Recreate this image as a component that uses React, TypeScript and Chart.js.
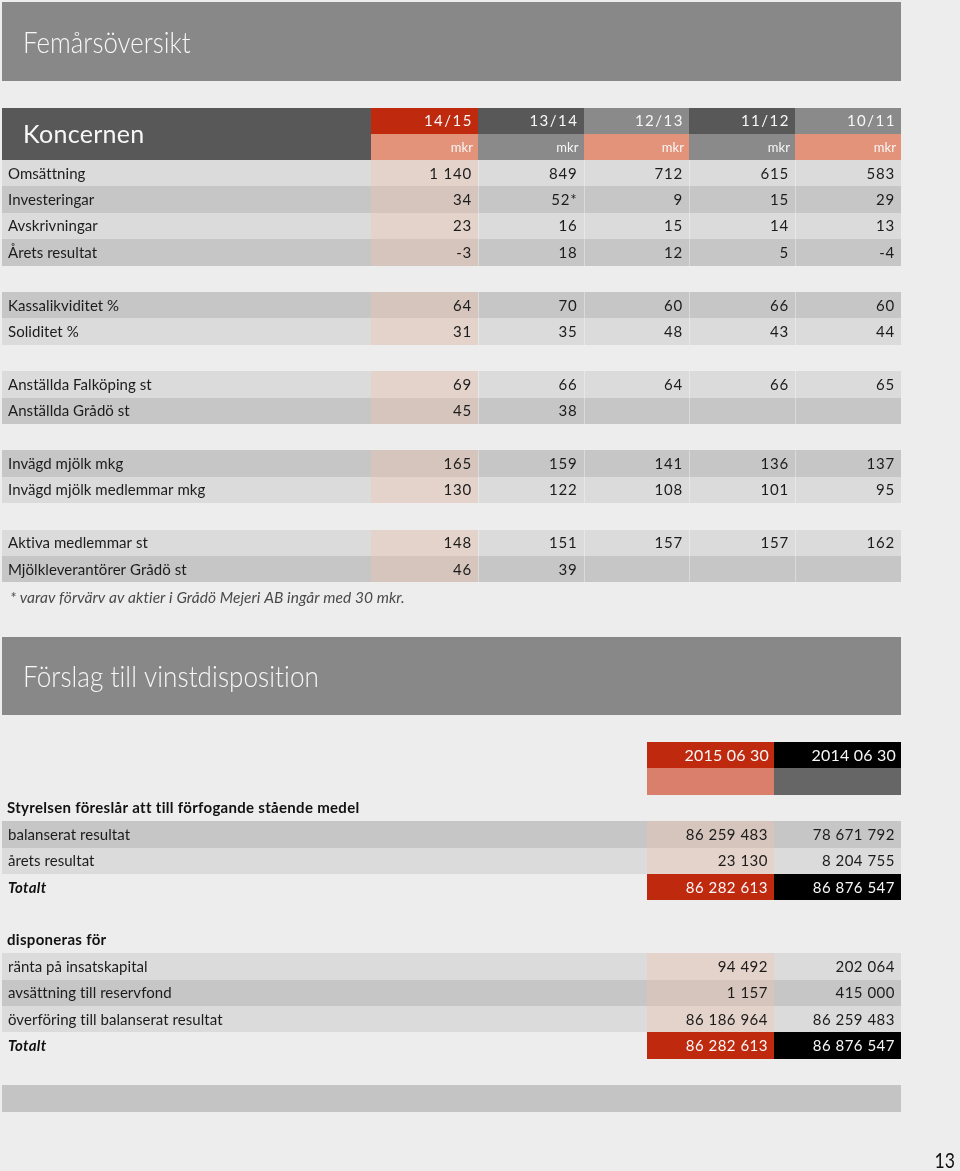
import React, { useEffect, useRef } from "react";
import { Chart, registerables } from "chart.js";

Chart.register(...registerables);

// ---------- DATA ----------
const pageTitle = "Femårsöversikt";
const groupTitle = "Koncernen";
const yearLabels = ["14/15", "13/14", "12/13", "11/12", "10/11"];
const unitLabels = ["mkr", "mkr", "mkr", "mkr", "mkr"];

// '' label = spacer row
const rowLabels = [
  "Omsättning", "Investeringar", "Avskrivningar", "Årets resultat", "",
  "Kassalikviditet %", "Soliditet %", "",
  "Anställda Falköping st", "Anställda Grådö st", "",
  "Invägd mjölk mkg", "Invägd mjölk medlemmar mkg", "",
  "Aktiva medlemmar st", "Mjölkleverantörer Grådö st",
];
const v1415 = ["1 140", "34", "23", "-3", "", "64", "31", "", "69", "45", "", "165", "130", "", "148", "46"];
const v1314 = ["849", "52*", "16", "18", "", "70", "35", "", "66", "38", "", "159", "122", "", "151", "39"];
const v1213 = ["712", "9", "15", "12", "", "60", "48", "", "64", "", "", "141", "108", "", "157", ""];
const v1112 = ["615", "15", "14", "5", "", "66", "43", "", "66", "", "", "136", "101", "", "157", ""];
const v1011 = ["583", "29", "13", "-4", "", "60", "44", "", "65", "", "", "137", "95", "", "162", ""];
const yearValues = [v1415, v1314, v1213, v1112, v1011];
const footnote = "* varav förvärv av aktier i Grådö Mejeri AB ingår med 30 mkr.";

const dispTitle = "Förslag till vinstdisposition";
const dispDates = ["2015 06 30", "2014 06 30"];
const dispKinds = ["head", "row", "row", "total", "gap", "head", "row", "row", "row", "total"];
const dispLabels = [
  "Styrelsen föreslår att till förfogande stående medel",
  "balanserat resultat", "årets resultat", "Totalt", "",
  "disponeras för",
  "ränta på insatskapital", "avsättning till reservfond", "överföring till balanserat resultat", "Totalt",
];
const disp2015 = ["", "86 259 483", "23 130", "86 282 613", "", "", "94 492", "1 157", "86 186 964", "86 282 613"];
const disp2014 = ["", "78 671 792", "8 204 755", "86 876 547", "", "", "202 064", "415 000", "86 259 483", "86 876 547"];
const pageNumber = "13";

// ---------- STYLE ----------
const W = 960;
const H = 1171;
const FONT = "Lato, 'Open Sans', sans-serif";
const C = {
  page: "#ededed",
  titleBox: "#888888",
  headDark: "#585858",
  headGrey: "#8a8a8a",
  red: "#bf2a0f",
  salmon: "#e2937a",
  salmon2: "#d97f6b",
  grey2: "#666666",
  black: "#000000",
  rowLight: "#dbdbdb",
  rowDark: "#c6c6c6",
  tintLight: "#e4d3ca",
  tintDark: "#d6c5bc",
  text: "#1c1c1c",
  white: "#f7f7f7",
};

const tablePlugin = {
  id: "tablePlugin",
  beforeDraw(chart: any) {
    const ctx: any = chart.ctx;
    const sx = chart.scales.x;
    const sy = chart.scales.y;
    const X = (v: number) => sx.getPixelForValue(v);
    const Y = (v: number) => sy.getPixelForValue(v);
    const rect = (x0: number, y0: number, x1: number, y1: number, color: string) => {
      const a = Math.round(X(x0)), b = Math.round(Y(y0));
      const c = Math.round(X(x1)), d = Math.round(Y(y1));
      ctx.fillStyle = color;
      ctx.fillRect(a, b, c - a, d - b);
    };
    const text = (
      s: string, x: number, y: number, font: string, color: string,
      align: CanvasTextAlign = "left", squeeze = 1, spacing = 0.05
    ) => {
      ctx.save();
      ctx.font = font;
      ctx.fillStyle = color;
      ctx.textBaseline = "middle";
      ctx.textAlign = align;
      ctx.letterSpacing = `${spacing}px`;
      ctx.translate(X(x), Y(y));
      ctx.scale(squeeze, 1);
      ctx.fillText(s, 0, 0);
      ctx.restore();
    };

    // page
    rect(0, 0, W, H, C.page);

    const L = 2, R = 901;
    const RH = 26.4;

    // ---- title box
    rect(L, 2, R, 81, C.titleBox);
    text(pageTitle, 23, 43, `300 30px ${FONT}`, C.white, "left", 0.86);

    // ---- Koncernen header
    const colEdges = [371, 478, 583.5, 689, 795, R];
    const hTop = 108;
    rect(L, hTop, colEdges[0], hTop + 2 * 26, C.headDark);
    text(groupTitle, 23, hTop + 27, `25px ${FONT}`, C.white, "left", 1, 0.3);
    const yearColors = [C.red, C.headDark, C.headGrey, C.headDark, C.headGrey];
    const unitColors = [C.salmon, C.headGrey, C.salmon, C.headGrey, C.salmon];
    yearLabels.forEach((lab, i) => {
      rect(colEdges[i], hTop, colEdges[i + 1], hTop + 26, yearColors[i]);
      rect(colEdges[i], hTop + 26, colEdges[i + 1], hTop + 52, unitColors[i]);
      text(lab, colEdges[i + 1] - 5, hTop + 13.5, `15px ${FONT}`, C.white, "right", 1, 1.5);
      text(unitLabels[i], colEdges[i + 1] - 5, hTop + 40, `13px ${FONT}`, C.white, "right");
    });

    // ---- Koncernen rows
    const bodyTop = 160;
    rowLabels.forEach((lab, r) => {
      if (!lab) return;
      const y0 = bodyTop + r * RH, y1 = y0 + RH;
      const dark = r % 2 === 1;
      rect(L, y0, R, y1, dark ? C.rowDark : C.rowLight);
      rect(colEdges[0], y0, colEdges[1], y1, dark ? C.tintDark : C.tintLight);
      for (let i = 1; i < colEdges.length - 1; i++) {
        rect(colEdges[i], y0, colEdges[i] + 1, y1, "rgba(255,255,255,0.35)");
      }
      const cy = (y0 + y1) / 2 + 0.5;
      text(lab, 8, cy, `15px ${FONT}`, C.text);
      yearValues.forEach((vals, i) => {
        if (vals[r]) text(vals[r], colEdges[i + 1] - 6, cy, `15px ${FONT}`, C.text, "right", 1, 0.8);
      });
    });
    text(footnote, 10, 597.5, `italic 15.5px ${FONT}`, "#4a4a4a");

    // ---- Vinstdisposition
    rect(L, 637, R, 715, C.titleBox);
    text(dispTitle, 23, 677, `300 30px ${FONT}`, C.white, "left", 0.87);

    const dEdges = [647, 774, R];
    const dTop = 742;
    rect(dEdges[0], dTop, dEdges[1], dTop + RH, C.red);
    rect(dEdges[1], dTop, dEdges[2], dTop + RH, C.black);
    rect(dEdges[0], dTop + RH, dEdges[1], dTop + 2 * RH, C.salmon2);
    rect(dEdges[1], dTop + RH, dEdges[2], dTop + 2 * RH, C.grey2);
    dispDates.forEach((d, i) => {
      text(d, dEdges[i + 1] - 5, dTop + RH / 2 + 0.5, `16px ${FONT}`, C.white, "right", 1, 0.2);
    });

    const dValues = [disp2015, disp2014];
    dispKinds.forEach((kind, j) => {
      const k = j + 2;
      const y0 = dTop + k * RH, y1 = y0 + RH;
      const cy = (y0 + y1) / 2 + 0.5;
      const lab = dispLabels[j];
      if (kind === "gap") return;
      if (kind === "head") {
        text(lab, 7, cy, `bold 15px ${FONT}`, "#111", "left", 1, 0.3);
        return;
      }
      if (kind === "total") {
        rect(dEdges[0], y0, dEdges[1], y1, C.red);
        rect(dEdges[1], y0, dEdges[2], y1, C.black);
        text(lab, 8, cy, `italic bold 15px ${FONT}`, "#111", "left", 1, 0.3);
        dValues.forEach((vals, i) => {
          text(vals[j], dEdges[i + 1] - 6, cy, `15px ${FONT}`, C.white, "right", 1, 0.5);
        });
        return;
      }
      const dark = k % 2 === 1;
      rect(L, y0, R, y1, dark ? C.rowDark : C.rowLight);
      rect(dEdges[0], y0, dEdges[1], y1, dark ? C.tintDark : C.tintLight);
      text(lab, 8, cy, `15px ${FONT}`, C.text);
      dValues.forEach((vals, i) => {
        text(vals[j], dEdges[i + 1] - 6, cy, `15px ${FONT}`, C.text, "right", 1, 0.5);
      });
    });

    // bottom bar
    const bTop = dTop + 13 * RH;
    rect(L, bTop, R, bTop + RH, "#c4c4c4");

    // page number
    text(pageNumber, 955, 1161, `22px ${FONT}`, "#111", "right", 0.8);
  },
};

export default function App() {
  const ref = useRef<HTMLCanvasElement | null>(null);
  useEffect(() => {
    if (!ref.current) return;
    const chart = new Chart(ref.current, {
      type: "scatter",
      data: { datasets: [] },
      options: {
        animation: false,
        responsive: false,
        maintainAspectRatio: false,
        events: [],
        layout: { padding: 0 },
        scales: {
          x: { type: "linear", min: 0, max: W, display: false },
          y: { type: "linear", min: 0, max: H, reverse: true, display: false },
        },
        plugins: { legend: { display: false }, tooltip: { enabled: false } },
      },
      plugins: [tablePlugin],
    } as any);
    return () => chart.destroy();
  }, []);
  return (
    <div style={{ position: "absolute", left: 0, top: 0, width: W, height: H, background: C.page }}>
      <canvas ref={ref} width={W} height={H} style={{ display: "block" }} />
    </div>
  );
}
